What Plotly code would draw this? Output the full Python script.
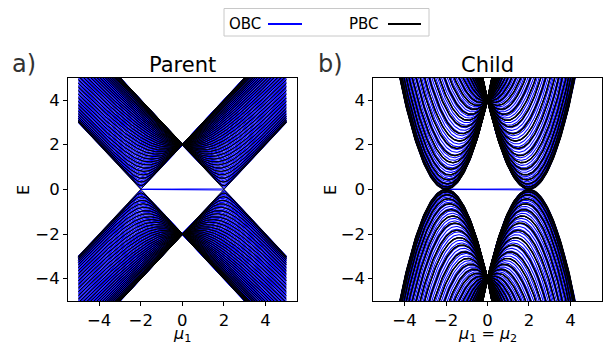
import numpy as np
import plotly.graph_objects as go

# ---- model parameters (Kitaev chain, t = Delta) ----
N_SITES = 100          # open chain length (OBC)
N_K = 76               # number of momenta (PBC)
T_HOP = 1.0
DELTA = 1.0
MU_MIN, MU_MAX, N_MU = -5.0, 5.0, 201

X_TICKS = [-4, -2, 0, 2, 4]
Y_TICKS = [-4, -2, 0, 2, 4]
PANEL_TITLES = ["Parent", "Child"]
PANEL_LETTERS = ["a)", "b)"]
X_LABELS = ["<i>μ</i><sub>1</sub>", "<i>μ</i><sub>1</sub> = <i>μ</i><sub>2</sub>"]
Y_LABEL = "E"
LEGEND_NAMES = ["OBC", "PBC"]

mu = np.linspace(MU_MIN, MU_MAX, N_MU)


def obc_spectrum(m):
    n = N_SITES
    s = np.eye(n, k=1)
    h = -m * np.eye(n) - T_HOP * (s + s.T)
    d = DELTA * (s - s.T)
    H = np.block([[h, d], [-d, -h]])
    return np.linalg.eigvalsh(H)


def pbc_spectrum(m):
    ks = 2 * np.pi * np.arange(N_K) / N_K
    hk = -m - 2 * T_HOP * np.cos(ks)
    dk = 2 * DELTA * np.sin(ks)
    e = np.sqrt(hk ** 2 + dk ** 2)
    return np.concatenate([-e, e])


E_obc = np.array([obc_spectrum(m) for m in mu])   # (N_MU, 2N)
E_pbc = np.array([pbc_spectrum(m) for m in mu])   # (N_MU, 2N_K)


def child(E):
    return np.sign(E) * E ** 2


def joined(E):
    xs, ys = [], []
    for j in range(E.shape[1]):
        xs.extend(mu.tolist()); xs.append(None)
        ys.extend(np.round(E[:, j], 4).tolist()); ys.append(None)
    return xs, ys


FONT = "DejaVu Sans"
fig = go.Figure()

panels = [(E_obc, E_pbc), (child(E_obc), child(E_pbc))]
black_w = [0.9, 1.3]
for i, (eo, ep) in enumerate(panels):
    xa = "x" if i == 0 else "x2"
    ya = "y" if i == 0 else "y2"
    x, y = joined(eo)
    fig.add_trace(go.Scatter(x=x, y=y, mode="lines", line=dict(color="blue", width=1.05),
                             xaxis=xa, yaxis=ya, showlegend=False, hoverinfo="skip"))
    x, y = joined(ep)
    fig.add_trace(go.Scatter(x=x, y=y, mode="lines", line=dict(color="black", width=black_w[i]),
                             xaxis=xa, yaxis=ya, showlegend=False, hoverinfo="skip"))

W, H = 603, 345
xdoms = [[68 / W, 296.7 / W], [373.4 / W, 601.6 / W]]
ydom = [(H - 301) / H, (H - 77.7) / H]

axis_common = dict(showgrid=False, zeroline=False, showline=True, mirror=True,
                   linecolor="black", linewidth=1, ticks="outside", ticklen=4,
                   tickcolor="black", tickfont=dict(family=FONT, size=16.5, color="black"))

fig.update_layout(
    xaxis=dict(domain=xdoms[0], range=[-5.5, 5.5], tickvals=X_TICKS, anchor="y", **axis_common),
    yaxis=dict(domain=ydom, range=[-5, 5], tickvals=Y_TICKS, anchor="x", **axis_common),
    xaxis2=dict(domain=xdoms[1], range=[-5.5, 5.5], tickvals=X_TICKS, anchor="y2", **axis_common),
    yaxis2=dict(domain=ydom, range=[-5, 5], tickvals=Y_TICKS, anchor="x2", **axis_common),
    width=W, height=H, margin=dict(l=0, r=0, t=0, b=0),
    paper_bgcolor="white", plot_bgcolor="white",
    font=dict(family=FONT, color="black"),
)

ann = []
shapes = []
for i in range(2):
    cx = (xdoms[i][0] + xdoms[i][1]) / 2
    ann.append(dict(text=PANEL_TITLES[i], x=cx, y=ydom[1], xref="paper", yref="paper",
                    xanchor="center", yanchor="bottom", yshift=-1, showarrow=False,
                    font=dict(size=21, family=FONT)))
    ann.append(dict(text=X_LABELS[i], x=cx, y=(H - 334) / H, xref="paper", yref="paper",
                    xanchor="center", yanchor="middle", showarrow=False,
                    font=dict(size=16, family=FONT)))
ann.append(dict(text=PANEL_LETTERS[0], x=10 / W, y=(H - 64) / H, xref="paper", yref="paper",
                xanchor="left", yanchor="middle", showarrow=False,
                font=dict(size=24, family=FONT, color="#333")))
ann.append(dict(text=PANEL_LETTERS[1], x=316 / W, y=(H - 64) / H, xref="paper", yref="paper",
                xanchor="left", yanchor="middle", showarrow=False,
                font=dict(size=24, family=FONT, color="#333")))
for xc in [23, 330]:
    ann.append(dict(text=Y_LABEL, x=xc / W, y=(H - 190) / H, xref="paper", yref="paper",
                    xanchor="center", yanchor="middle", textangle=-90, showarrow=False,
                    font=dict(size=16, family=FONT)))

# legend box
shapes.append(dict(type="rect", xref="paper", yref="paper", x0=224 / W, x1=429 / W,
                   y0=(H - 36) / H, y1=(H - 8.5) / H, line=dict(color="#c8c8c8", width=1),
                   fillcolor="white"))
ly = (H - 24) / H
ann.append(dict(text=LEGEND_NAMES[0], x=227 / W, y=ly, xref="paper", yref="paper",
                xanchor="left", yanchor="middle", showarrow=False, font=dict(size=15, family=FONT)))
ann.append(dict(text=LEGEND_NAMES[1], x=347 / W, y=ly, xref="paper", yref="paper",
                xanchor="left", yanchor="middle", showarrow=False, font=dict(size=15, family=FONT)))
shapes.append(dict(type="line", xref="paper", yref="paper", x0=268 / W, x1=302 / W,
                   y0=ly, y1=ly, line=dict(color="blue", width=2)))
shapes.append(dict(type="line", xref="paper", yref="paper", x0=388 / W, x1=421 / W,
                   y0=ly, y1=ly, line=dict(color="black", width=2)))

fig.update_layout(annotations=ann, shapes=shapes)
fig.write_html("out.html", config={"displayModeBar": False, "staticPlot": True},
               post_script="document.body.style.margin='0';document.body.style.overflow='hidden';")
